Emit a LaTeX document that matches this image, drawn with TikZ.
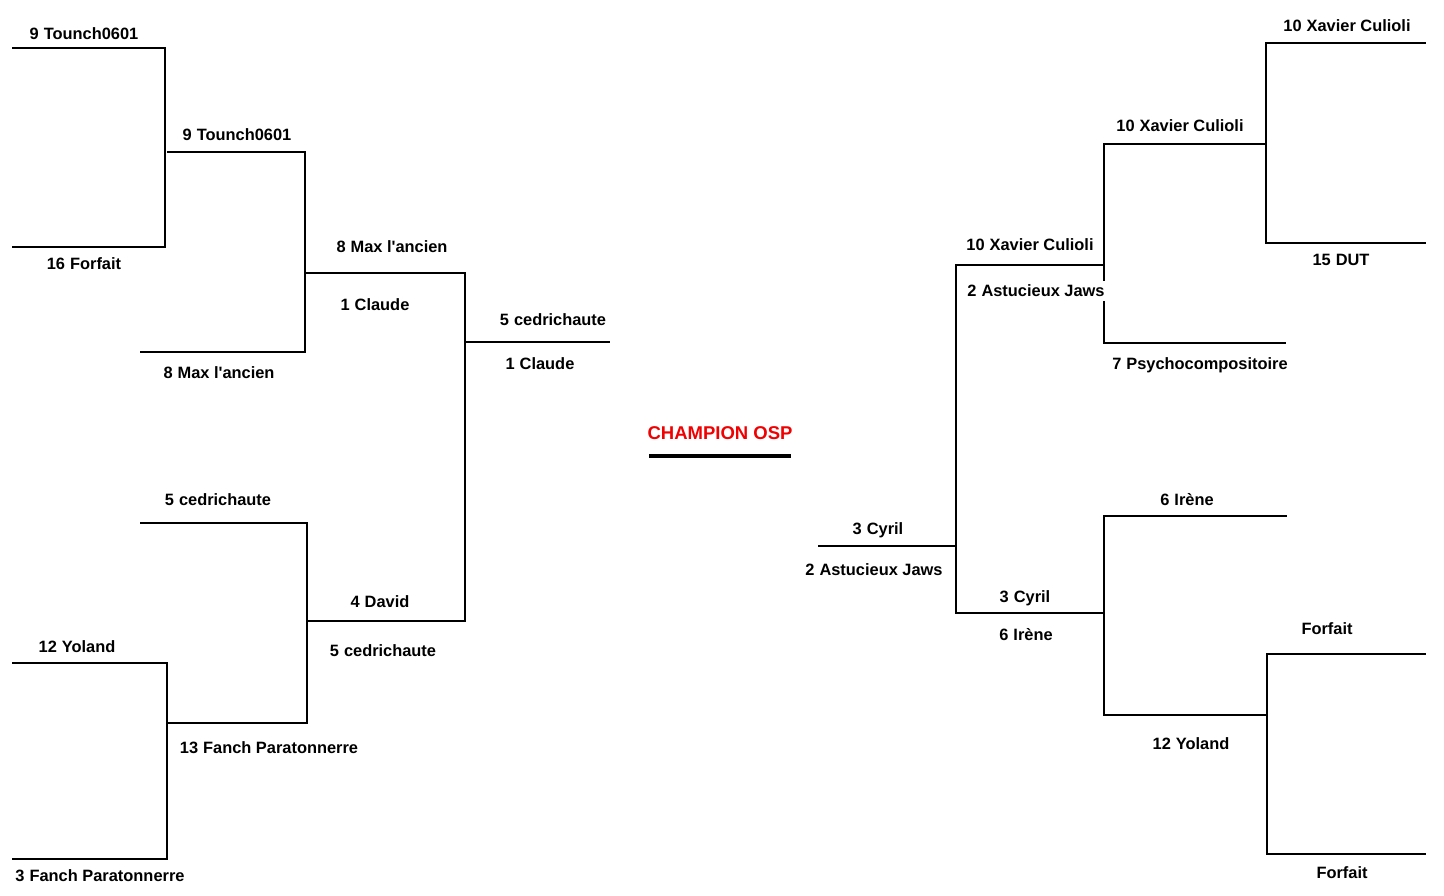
\documentclass[tikz,border=0pt]{standalone}
\usepackage{fontspec}
\setmainfont{Liberation Sans}[Ligatures=TeXOff]
\definecolor{champred}{RGB}{240,0,0}
\begin{document}
\begin{tikzpicture}[x=1pt,y=-1pt,
  wire/.style={line width=2pt,line cap=rect,line join=miter},
  lbl/.style={font=\bfseries\fontsize{16.4}{19}\selectfont,inner sep=0pt,anchor=base},
  champ/.style={font=\bfseries\fontsize{18.5}{21}\selectfont,text=champred,inner sep=0pt,anchor=base},
  bar/.style={line width=4pt}]
\useasboundingbox[fill=white] (0,0) rectangle (1444,896);
% ---------- left side coordinates ----------
\coordinate (L1a) at (13,48);  \coordinate (L1b) at (165,48);  \coordinate (L1c) at (165,247); \coordinate (L1d) at (13,247);
\coordinate (L2a) at (168,152); \coordinate (L2b) at (305,152); \coordinate (L2c) at (305,352); \coordinate (L2d) at (141,352);
\coordinate (L3a) at (305,273); \coordinate (L3b) at (465,273); \coordinate (L3c) at (465,621); \coordinate (L3d) at (309,621);
\coordinate (LFa) at (465,342); \coordinate (LFb) at (609,342);
\coordinate (L4a) at (141,523); \coordinate (L4b) at (307,523); \coordinate (L4c) at (307,723); \coordinate (L4d) at (168,723);
\coordinate (L5a) at (13,663);  \coordinate (L5b) at (167,663); \coordinate (L5c) at (167,859); \coordinate (L5d) at (13,859);
% ---------- right side coordinates ----------
\coordinate (R1a) at (1425,43);  \coordinate (R1b) at (1266,43);  \coordinate (R1c) at (1266,243); \coordinate (R1d) at (1425,243);
\coordinate (R2a) at (1266,144); \coordinate (R2b) at (1104,144); \coordinate (R2c) at (1104,343); \coordinate (R2d) at (1285,343);
\coordinate (R3a) at (1104,265); \coordinate (R3b) at (956,265);  \coordinate (R3c) at (956,613);  \coordinate (R3d) at (1104,613);
\coordinate (RFa) at (956,546);  \coordinate (RFb) at (819,546);
\coordinate (R4a) at (1286,516); \coordinate (R4b) at (1104,516); \coordinate (R4c) at (1104,715); \coordinate (R4d) at (1267,715);
\coordinate (R5a) at (1425,654); \coordinate (R5b) at (1267,654); \coordinate (R5c) at (1267,854); \coordinate (R5d) at (1425,854);
\coordinate (Ba) at (649,456); \coordinate (Bb) at (791,456);
% ---------- lines ----------
\draw[wire] (L1a) -- (L1b) -- (L1c) -- (L1d);
\draw[wire] (L2a) -- (L2b) -- (L2c) -- (L2d);
\draw[wire] (L3a) -- (L3b) -- (L3c) -- (L3d);
\draw[wire] (LFa) -- (LFb);
\draw[wire] (L4a) -- (L4b) -- (L4c) -- (L4d);
\draw[wire] (L5a) -- (L5b) -- (L5c) -- (L5d);
\draw[wire] (R1a) -- (R1b) -- (R1c) -- (R1d);
\draw[wire] (R2a) -- (R2b) -- (R2c) -- (R2d);
\draw[wire] (R3a) -- (R3b) -- (R3c) -- (R3d);
\draw[wire] (RFa) -- (RFb);
\draw[wire] (R4a) -- (R4b) -- (R4c) -- (R4d);
\draw[wire] (R5a) -- (R5b) -- (R5c) -- (R5d);
\draw[bar] (Ba) -- (Bb);
% ---------- left labels ----------
\node[lbl] (t1) at (84,40)  {9\hspace{5pt}Tounch0601};
\node[lbl] (t2) at (84,270) {16\hspace{5pt}Forfait};
\node[lbl] (t3) at (237,141) {9\hspace{5pt}Tounch0601};
\node[lbl] (t4) at (219,378) {8\hspace{5pt}Max l'ancien};
\node[lbl] (t5) at (392,253) {8\hspace{5pt}Max l'ancien};
\node[lbl] (t6) at (375,310) {1\hspace{5pt}Claude};
\node[lbl] (t7) at (553,326) {5\hspace{5pt}cedrichaute};
\node[lbl] (t8) at (540,369) {1\hspace{5pt}Claude};
\node[lbl] (t9) at (218,505) {5\hspace{5pt}cedrichaute};
\node[lbl] (t10) at (380,607) {4\hspace{5pt}David};
\node[lbl] (t11) at (383,656) {5\hspace{5pt}cedrichaute};
\node[lbl] (t12) at (77,652) {12\hspace{5pt}Yoland};
\node[lbl] (t13) at (269,753) {13\hspace{5pt}Fanch Paratonnerre};
\node[lbl] (t14) at (100,881) {3\hspace{5pt}Fanch Paratonnerre};
% ---------- centre ----------
\node[champ] (champ) at (720,439) {CHAMPION OSP};
% ---------- right labels ----------
\node[lbl] (r1) at (1347,32) {10\hspace{5pt}Xavier Culioli};
\node[lbl] (r2) at (1341,266) {15\hspace{5pt}DUT};
\node[lbl] (r3) at (1180,132) {10\hspace{5pt}Xavier Culioli};
\node[lbl] (r4) at (1200,369) {7\hspace{5pt}Psychocompositoire};
\node[lbl] (r5) at (1030,251) {10\hspace{5pt}Xavier Culioli};
\node[lbl,fill=white,inner xsep=3pt,inner ysep=4pt] (r6) at (1036,297) {2\hspace{5pt}Astucieux Jaws};
\node[lbl] (r7) at (878,534) {3\hspace{5pt}Cyril};
\node[lbl] (r8) at (874,575) {2\hspace{5pt}Astucieux Jaws};
\node[lbl] (r9) at (1025,602) {3\hspace{5pt}Cyril};
\node[lbl] (r10) at (1026,640) {6\hspace{5pt}Irène};
\node[lbl] (r11) at (1187,505) {6\hspace{5pt}Irène};
\node[lbl] (r12) at (1191,749) {12\hspace{5pt}Yoland};
\node[lbl] (r13) at (1327,634) {Forfait};
\node[lbl] (r14) at (1342,878) {Forfait};
\end{tikzpicture}
\end{document}
